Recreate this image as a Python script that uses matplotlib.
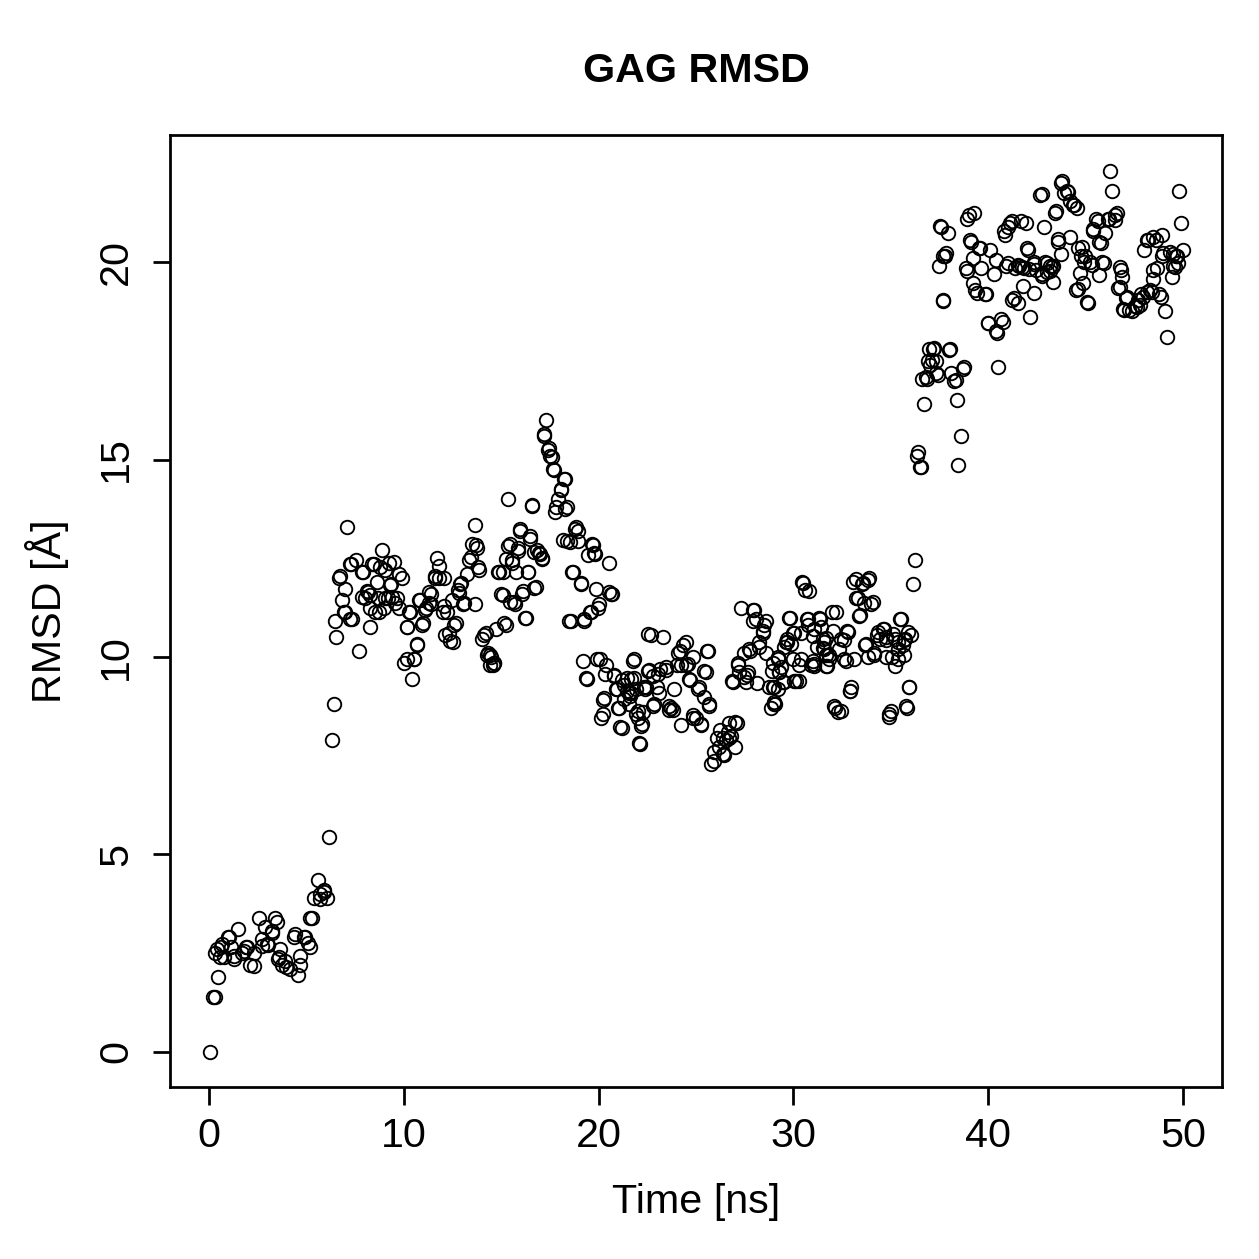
import matplotlib
matplotlib.use("Agg")
import matplotlib.pyplot as plt

# time [ns] and RMSD [Å], point by point (rows match)
time_ns = [
    0.05, 0.2, 0.3, 0.3, 0.45, 0.61, 0.77, 0.97, 1.13, 1.28,
    1.49, 1.69, 1.9, 2.1, 2.31, 2.56, 2.72, 2.87, 3.02, 3.23,
    3.38, 3.53, 3.74, 3.94, 4.15, 4.35, 4.56, 4.66, 4.87, 5.07,
    5.28, 5.38, 5.58, 5.69, 5.89, 6.05, 6.15, 6.3, 6.4, 6.51,
    6.66, 6.81, 6.97, 7.07, 7.22, 7.33, 7.53, 7.68, 7.84, 7.99,
    8.15, 8.35, 8.5, 8.66, 8.86, 9.02, 9.17, 9.32, 9.48, 9.63,
    9.78, 9.89, 9.99, 10.14, 10.3, 10.4, 10.5, 10.66, 10.81, 10.96,
    11.12, 11.27, 11.42, 11.58, 11.73, 11.83, 11.99, 12.14, 12.35, 12.45,
    12.6, 12.76, 12.91, 13.06, 13.22, 13.37, 13.52, 13.63, 13.78, 13.88,
    13.99, 14.14, 14.29, 14.45, 14.6, 14.75, 14.91, 15.01, 15.11, 15.27,
    15.37, 15.47, 15.57, 15.73, 15.88, 15.98, 16.09, 16.24, 16.39, 16.5,
    16.6, 16.7, 16.85, 17.01, 17.11, 17.21, 17.32, 17.42, 17.52, 17.67,
    17.83, 17.93, 18.08, 18.24, 18.29, 18.39, 18.49, 18.65, 18.8, 18.95,
    19.11, 19.26, 19.42, 19.57, 19.67, 19.83, 19.93, 20.03, 20.13, 20.24,
    20.39, 20.54, 20.65, 20.8, 20.95, 21.06, 21.21, 21.31, 21.47, 21.57,
    21.67, 21.82, 21.93, 22.03, 22.13, 22.23, 22.39, 22.54, 22.69, 22.85,
    23.0, 23.16, 23.31, 23.46, 23.62, 23.72, 23.87, 24.03, 24.18, 24.33,
    24.49, 24.64, 24.85, 25.0, 25.15, 25.26, 25.41, 25.56, 25.67, 25.77,
    25.92, 26.08, 26.23, 26.38, 26.54, 26.69, 26.84, 27.0, 27.15, 27.31,
    27.46, 27.61, 27.77, 27.92, 28.07, 28.23, 28.43, 28.59, 28.74, 28.89,
    29.05, 29.2, 29.35, 29.51, 29.66, 29.82, 29.97, 30.12, 30.28, 30.43,
    30.58, 30.74, 30.89, 31.05, 31.2, 31.35, 31.51, 31.66, 31.81, 31.97,
    32.12, 32.27, 32.43, 32.58, 32.73, 32.89, 33.04, 33.2, 33.35, 33.5,
    33.66, 33.81, 33.97, 34.12, 34.27, 34.43, 34.58, 34.73, 34.89, 35.04,
    35.2, 35.35, 35.45, 35.6, 35.71, 35.81, 35.91, 36.01, 36.12, 36.22,
    36.32, 36.48, 36.58, 36.68, 36.83, 36.99, 37.14, 37.3, 37.4, 37.45,
    37.55, 37.65, 37.76, 37.91, 38.01, 38.11, 38.22, 38.37, 38.47, 38.58,
    38.68, 38.83, 38.99, 39.09, 39.19, 39.34, 39.5, 39.65, 39.81, 39.96,
    40.11, 40.27, 40.42, 40.52, 40.63, 40.83, 40.93, 41.09, 41.24, 41.39,
    41.55, 41.7, 41.85, 42.01, 42.16, 42.32, 42.47, 42.67, 42.78, 42.93,
    43.03, 43.19, 43.34, 43.44, 43.6, 43.75, 43.9, 44.06, 44.21, 44.36,
    44.52, 44.62, 44.77, 44.93, 45.08, 45.24, 45.39, 45.54, 45.7, 45.85,
    46.0, 46.16, 46.26, 46.36, 46.52, 46.67, 46.82, 46.98, 47.08, 47.23,
    47.39, 47.54, 47.69, 47.85, 48.0, 48.16, 48.31, 48.46, 48.62, 48.77,
    48.92, 49.08, 49.18, 49.33, 49.49, 49.64, 49.8, 49.9, 50.0,
    # second pass through the dense clusters
    0.41, 0.67, 1.02, 0.56, 1.28, 1.79, 1.95, 2.31, 2.72, 2.97,
    3.48, 3.23, 3.64, 3.59, 3.89, 4.41, 4.66, 4.92, 5.17, 5.17,
    5.69, 5.89,
    6.71, 6.97, 6.92, 6.45, 7.22, 7.27, 7.89, 8.45, 8.76, 9.22,
    9.78, 8.61, 9.27, 8.09, 7.84, 8.25, 9.02, 9.38, 9.53, 8.25,
    8.71, 8.97, 10.25, 8.25, 10.19, 10.66, 10.14, 10.5, 10.76, 11.07,
    11.32, 11.42, 11.01, 11.83, 11.58, 12.04, 12.04, 12.24, 12.3, 12.55,
    12.7, 12.81, 12.96, 13.11, 13.47, 13.63, 13.73, 13.83, 14.24, 14.34,
    14.5, 14.65, 14.86, 15.11, 15.16, 15.37, 15.27, 15.47,
    17.21, 17.47, 17.62, 17.73, 18.29, 18.08, 18.39, 17.78, 16.6, 15.98,
    16.5, 15.88, 16.7, 16.96, 17.11, 15.57, 15.78, 16.39, 16.8, 15.68,
    16.14, 16.29, 18.19, 18.55, 18.85, 18.95, 19.72, 19.77, 19.47, 18.7,
    19.11, 19.88, 20.7, 19.98, 19.62, 18.6, 19.26, 19.21, 20.08, 19.36,
    20.34, 20.8, 21.47, 21.77, 20.9, 21.57, 20.29, 21.0, 22.03, 20.24,
    22.34, 22.54, 14.4, 14.65, 20.54,
    24.49, 24.08, 25.61, 24.85, 24.59, 24.23, 23.46, 22.59, 23.05, 22.8,
    21.21, 21.82, 25.51, 24.69, 25.1, 25.41, 25.67, 21.67, 22.44, 23.1,
    21.31, 21.62, 22.8, 21.93, 22.28, 23.62, 23.82, 24.23, 24.85, 25.26,
    21.11, 22.18, 22.08, 25.92, 26.18, 26.38, 26.64, 26.69, 27.1, 27.0,
    26.79, 26.43, 27.97, 27.92, 28.48, 28.43, 28.23, 27.72, 27.46, 27.15,
    27.2, 26.9, 27.56, 28.13, 27.66, 28.59, 28.94, 29.2, 29.25, 29.51,
    28.94, 28.84, 29.0, 30.02, 30.38, 30.74, 31.3, 31.4, 29.66, 29.87,
    30.38, 30.99, 31.05, 31.66, 31.56, 31.56, 30.02, 30.28,
    30.48, 30.79, 33.2, 33.56, 33.86, 33.3, 33.61, 34.07, 33.4, 32.17,
    29.76, 30.69, 32.02, 32.79, 29.97, 30.99, 31.66, 32.58, 34.32, 34.63,
    34.73, 35.09, 35.5, 35.86, 35.66, 35.35, 29.61, 31.51, 31.81, 32.33,
    33.71, 34.12, 34.73, 35.35, 35.66, 29.2, 31.05, 31.71, 32.68, 33.09,
    33.81, 35.19, 29.25, 29.0, 29.46, 32.94, 32.89, 35.91, 32.07, 32.43,
    29.0, 34.99, 34.89, 35.76,
    36.37, 36.53, 36.78, 37.3, 36.89, 37.09, 36.94, 37.19, 37.96, 38.32,
    38.73, 37.65, 37.81, 37.5, 37.7, 38.93, 39.29, 39.04, 38.93, 39.55,
    39.19, 39.4, 39.86, 40.42, 39.96, 40.73, 40.47, 40.88, 41.03, 41.24,
    41.96, 41.03, 41.5, 41.75, 42.06, 42.11, 42.37, 41.34, 41.5, 41.8,
    42.37, 42.78, 42.88, 43.03, 43.29, 43.19, 43.34, 43.6, 43.75, 43.49,
    43.8, 44.11, 44.42, 44.57, 42.78, 44.21, 44.83, 44.98, 44.72, 44.88,
    44.62, 45.13, 45.34, 45.39, 45.65, 45.8, 45.7, 45.95, 46.21, 46.52,
    46.62, 46.77, 46.87, 46.77, 46.93, 47.13, 47.64, 47.8, 47.95, 48.16,
    48.41, 48.46, 48.67, 48.87, 48.21, 48.46, 48.92, 48.98, 49.49, 49.69,
    49.74, 49.59, 49.44,
]

rmsd = [
    0.0, 1.4, 1.4, 2.5, 1.9, 2.65, 2.4, 2.9, 2.65, 2.35,
    3.1, 2.5, 2.65, 2.2, 2.5, 3.4, 2.85, 3.15, 2.7, 3.05,
    3.4, 2.35, 2.2, 2.15, 2.1, 2.9, 1.95, 2.2, 2.9, 2.75,
    3.4, 3.9, 4.35, 4.0, 4.1, 3.9, 5.45, 7.9, 8.8, 10.5,
    12.0, 11.45, 11.15, 13.3, 12.35, 10.95, 12.45, 10.15, 12.15, 11.5,
    11.65, 12.35, 11.15, 11.5, 12.7, 12.2, 11.5, 11.85, 12.4, 11.5,
    11.25, 12.0, 9.85, 10.75, 11.15, 9.45, 9.95, 10.3, 11.45, 10.8,
    11.25, 11.65, 11.35, 12.0, 12.5, 12.0, 11.15, 10.55, 10.4, 11.45,
    10.8, 11.7, 11.85, 11.35, 12.1, 12.45, 12.85, 13.35, 12.75, 12.2,
    10.45, 10.55, 10.05, 9.8, 9.8, 10.7, 12.15, 11.6, 12.15, 10.8,
    14.0, 12.85, 12.45, 11.35, 12.75, 13.2, 11.6, 11.0, 12.15, 13.0,
    13.85, 11.75, 12.7, 12.6, 12.5, 15.6, 16.0, 15.25, 15.1, 14.75,
    13.8, 14.0, 14.25, 14.5, 13.75, 12.95, 10.9, 12.15, 13.25, 12.95,
    11.85, 10.95, 9.45, 11.15, 12.85, 12.6, 9.95, 11.35, 8.45, 8.9,
    9.8, 11.65, 11.6, 9.55, 9.2, 8.7, 8.2, 9.3, 9.15, 8.8,
    9.45, 9.95, 9.2, 8.45, 7.8, 8.3, 9.2, 9.65, 10.55, 8.8,
    9.25, 9.7, 10.5, 9.75, 8.65, 8.7, 9.2, 9.8, 10.15, 10.3,
    9.8, 9.45, 8.45, 8.45, 9.25, 8.3, 9.65, 10.15, 8.8, 7.3,
    7.6, 7.95, 8.15, 7.55, 7.9, 7.95, 9.4, 8.35, 9.8, 11.25,
    9.5, 9.55, 10.15, 11.2, 10.95, 10.25, 10.65, 10.9, 9.25, 9.65,
    8.8, 9.2, 9.75, 10.25, 10.45, 11.0, 9.95, 9.4, 9.8, 11.9,
    11.7, 10.8, 9.8, 10.7, 10.25, 10.95, 10.45, 10.05, 9.95, 11.15,
    8.7, 8.6, 10.45, 9.95, 10.65, 9.15, 11.9, 11.5, 11.05, 11.85,
    10.3, 11.95, 11.35, 10.05, 10.55, 10.45, 10.7, 10.5, 8.55, 10.0,
    10.45, 9.95, 10.95, 10.3, 10.45, 8.7, 9.25, 10.55, 11.85, 12.45,
    15.1, 14.8, 17.05, 16.4, 17.05, 17.4, 17.8, 17.5, 17.15, 19.9,
    20.9, 19.05, 20.15, 20.75, 17.8, 17.2, 17.0, 16.5, 14.85, 15.6,
    17.3, 19.85, 21.2, 20.5, 20.1, 19.3, 20.35, 19.85, 19.2, 18.45,
    20.3, 19.7, 18.25, 17.35, 18.55, 20.8, 19.9, 21.0, 19.05, 19.85,
    19.9, 21.05, 19.85, 20.35, 18.6, 20.0, 19.8, 21.7, 19.65, 20.0,
    19.75, 19.9, 19.9, 21.25, 20.5, 22.0, 21.75, 21.8, 21.55, 21.45,
    19.3, 20.35, 20.15, 20.0, 19.0, 20.0, 20.8, 21.1, 20.5, 20.0,
    20.75, 21.1, 22.3, 21.8, 21.2, 19.35, 19.8, 18.8, 19.1, 18.8,
    18.75, 18.9, 19.05, 19.2, 20.3, 20.55, 19.3, 19.8, 20.55, 19.2,
    20.15, 18.75, 18.1, 20.25, 19.9, 20.15, 21.8, 21.0, 20.3,
    # second pass through the dense clusters
    2.6, 2.73, 2.9, 2.4, 2.43, 2.55, 2.65, 2.17, 2.68, 2.73,
    3.3, 3.0, 2.6, 2.4, 2.3, 2.98, 2.43, 2.9, 2.65, 3.4,
    3.87, 4.05,
    12.04, 11.71, 11.15, 10.9, 10.95, 12.36, 12.14, 12.36, 12.29, 12.39,
    12.11, 11.91, 11.83, 11.66, 11.53, 11.58, 11.5, 11.53, 11.38, 11.23,
    11.15, 11.23, 11.13, 10.75, 10.75, 10.32, 9.96, 9.96, 11.45, 11.2,
    11.38, 11.6, 10.85, 12.31, 12.04, 12.01, 11.28, 11.13, 10.62, 10.39,
    10.87, 11.63, 11.88, 11.38, 12.54, 11.33, 12.84, 12.29, 10.62, 10.11,
    9.99, 9.86, 12.16, 11.56, 10.87, 12.82, 12.49, 11.4,
    15.65, 15.3, 15.07, 14.74, 14.51, 14.24, 13.8, 13.68, 13.83, 13.25,
    13.07, 12.69, 12.67, 12.64, 12.47, 12.39, 12.16, 12.14, 11.78, 11.4,
    11.66, 11.0, 12.97, 12.92, 13.3, 13.2, 12.84, 12.64, 12.59, 12.14,
    11.88, 11.71, 11.6, 11.25, 11.15, 10.92, 10.9, 9.91, 9.96, 9.46,
    9.56, 9.51, 9.48, 9.91, 9.18, 9.1, 8.95, 8.72, 8.62, 8.55,
    9.25, 10.57, 10.06, 9.84, 12.39,
    10.39, 10.11, 10.16, 10.01, 9.81, 9.79, 9.68, 9.68, 9.56, 9.51,
    9.43, 9.46, 9.61, 9.41, 9.18, 8.98, 8.75, 9.1, 9.25, 9.1,
    8.93, 9.0, 8.75, 8.55, 8.6, 8.77, 8.67, 8.29, 8.52, 8.29,
    8.22, 8.24, 7.81, 7.36, 7.71, 7.94, 8.09, 8.34, 8.34, 7.71,
    7.99, 7.53, 11.18, 10.92, 10.8, 10.62, 10.37, 10.19, 10.11, 9.86,
    9.61, 9.36, 9.36, 9.33, 9.61, 10.11, 9.86, 9.94, 9.63, 9.36,
    9.23, 8.72, 8.82, 10.62, 10.62, 10.95, 11.0, 10.77, 10.37, 10.32,
    9.96, 9.89, 9.76, 9.76, 10.37, 10.19, 9.38, 9.38,
    11.88, 11.66, 11.98, 11.88, 12.01, 11.5, 11.38, 11.4, 11.07, 11.15,
    11.0, 10.95, 10.67, 10.64, 10.62, 10.52, 10.47, 10.42, 10.64, 10.7,
    10.44, 10.57, 10.95, 10.64, 10.44, 10.39, 10.37, 10.24, 10.06, 10.19,
    10.32, 10.11, 9.99, 10.19, 10.04, 9.99, 9.81, 9.76, 9.91, 9.94,
    10.01, 9.76, 9.61, 9.25, 9.36, 9.25, 9.13, 9.25, 8.75, 8.62,
    8.85, 8.62, 8.47, 8.75,
    15.2, 14.82, 17.09, 17.19, 17.5, 17.52, 17.8, 17.83, 17.78, 17.02,
    17.35, 20.15, 20.23, 20.91, 19.01, 21.09, 21.24, 20.56, 19.77, 20.35,
    19.47, 19.22, 19.19, 20.05, 18.46, 18.48, 18.2, 20.68, 20.88, 21.04,
    20.99, 19.97, 19.92, 19.87, 20.3, 19.82, 19.95, 19.09, 18.96, 19.39,
    19.22, 19.7, 20.88, 19.97, 19.87, 19.77, 19.49, 20.58, 20.2, 21.29,
    22.05, 21.77, 21.44, 21.37, 21.72, 20.63, 20.38, 20.15, 19.72, 19.47,
    19.32, 18.96, 19.92, 20.83, 21.04, 20.48, 19.67, 19.97, 21.09, 21.06,
    21.24, 19.87, 19.62, 19.37, 18.81, 19.11, 18.86, 18.91, 19.11, 19.24,
    19.24, 19.57, 19.85, 19.11, 20.56, 20.63, 20.68, 20.23, 20.2, 20.15,
    19.97, 19.87, 19.62,
]

plt.rcParams['font.family'] = ['Liberation Sans', 'DejaVu Sans']

fig = plt.figure(figsize=(1259 / 180, 1259 / 180), dpi=180)
ax = fig.add_axes([0.135, 0.1366, 0.8357, 0.7562])

ax.plot(time_ns, rmsd, linestyle='none', marker='o', markersize=5.4,
        markerfacecolor='none', markeredgecolor='black', markeredgewidth=0.75)

ax.set_xlim(-2, 52)
ax.set_ylim(-0.89, 23.22)
ax.set_xticks([0, 10, 20, 30, 40, 50])
ax.set_yticks([0, 5, 10, 15, 20])
ax.tick_params(direction='out', length=7, width=1.1, labelsize=16.5, pad=5)
ax.tick_params(axis='y', pad=7)
for lbl in ax.get_yticklabels():
    lbl.set_rotation(90)
    lbl.set_va('center')
for s in ax.spines.values():
    s.set_linewidth(1.1)

ax.set_xlabel('Time [ns]', fontsize=16.5, labelpad=11)
ax.set_ylabel('RMSD [Å]', fontsize=16.5, labelpad=11)
ax.set_title('GAG RMSD', fontsize=16.5, fontweight='bold', pad=21)

fig.savefig('out.png', dpi=180)
